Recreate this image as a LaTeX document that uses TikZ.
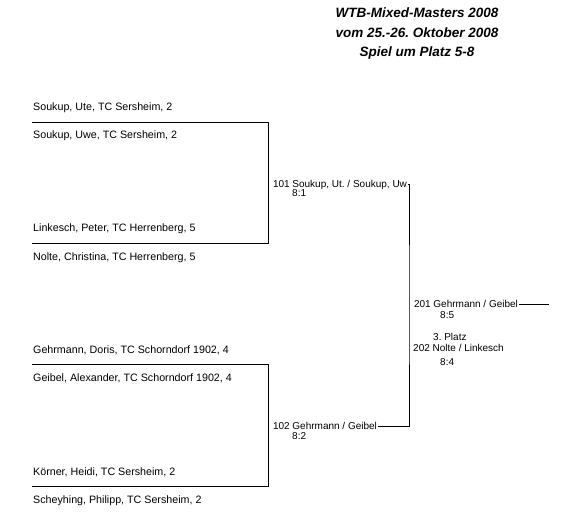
\documentclass[tikz,border=0pt]{standalone}
\usepackage{fontspec}
\setmainfont{Liberation Sans}
\usetikzlibrary{positioning}
\frenchspacing

\begin{document}
\begin{tikzpicture}[x=1pt, y=-1pt,
  spieler/.style={anchor=base west, inner sep=0pt, font=\fontsize{10.7}{12}\selectfont},
  spiel/.style={anchor=west, inner sep=0pt, outer sep=1pt,
    text height=7.2pt, text depth=0pt, font=\fontsize{10}{12}\selectfont},
  erg/.style={anchor=base west, inner sep=0pt, font=\fontsize{10}{12}\selectfont},
  linie/.style={line width=0.8pt}
]
  \useasboundingbox (0,0) rectangle (587,516);

  % --- Titel ---
  \node[anchor=north, align=center, inner sep=0pt,
        font=\fontsize{13.5}{19.3}\selectfont\bfseries\itshape] (titel) at (417,8)
    {WTB-Mixed-Masters 2008\\vom 25.-26. Oktober 2008\\Spiel um Platz 5-8};

  % --- Spieler ---
  \node[spieler] (p1) at (33,111) {Soukup, Ute, TC Sersheim, 2};
  \node[spieler] (p2) at (33,139) {Soukup, Uwe, TC Sersheim, 2};
  \node[spieler] (p3) at (33,232) {Linkesch, Peter, TC Herrenberg, 5};
  \node[spieler] (p4) at (33,260) {Nolte, Christina, TC Herrenberg, 5};
  \node[spieler] (p5) at (33,353) {Gehrmann, Doris, TC Schorndorf 1902, 4};
  \node[spieler] (p6) at (33,381) {Geibel, Alexander, TC Schorndorf 1902, 4};
  \node[spieler] (p7) at (33,475) {Körner, Heidi, TC Sersheim, 2};
  \node[spieler] (p8) at (33,503) {Scheyhing, Philipp, TC Sersheim, 2};

  % --- Klammern der ersten Runde ---
  \coordinate (a1) at (32,122);
  \coordinate (a2) at (32,243);
  \coordinate (a3) at (32,364);
  \coordinate (a4) at (32,486);
  \draw[linie] (a1) -- ++(236,0) |- (a2);
  \draw[linie] (a3) -- ++(236,0) |- (a4);

  % --- Spiele ---
  \node[spiel] (m101) at (272,184) {101 Soukup, Ut. / Soukup, Uw};
  \node[erg]   (e101) at (292,197) {8:1};
  \node[spiel] (m102) at (272,426) {102 Gehrmann / Geibel};
  \node[erg]   (e102) at (292,439) {8:2};

  \node[spiel] (m201) at (413,304) {201 Gehrmann / Geibel};
  \node[erg]   (e201) at (440,318) {8:5};
  \node[erg]   (platz) at (433,340) {3. Platz};
  \node[erg]   (m202) at (413,351) {202 Nolte / Linkesch};
  \node[erg]   (e202) at (440,365) {8:4};

  % --- Verbindungen ---
  \coordinate (v) at (409,0);
  \coordinate (sieger) at (549,304);
  \draw[linie] (m101.east) -| (v |- m201.west) |- (m102.east);
  \draw[linie] (m201.east) -- (m201.east -| sieger);

\end{tikzpicture}
\end{document}
